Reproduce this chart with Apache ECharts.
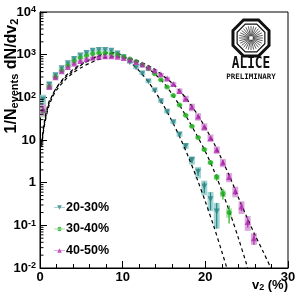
<!DOCTYPE html>
<html><head><meta charset="utf-8">
<script src="https://cdn.jsdelivr.net/npm/echarts@6/dist/echarts.min.js"></script>
<style>html,body{margin:0;padding:0;background:#fff}#c{width:299px;height:299px}</style>
</head><body><div id="c"></div>
<script>
// ---- data ----
const v2Bins = [0.375,1.125,1.875,2.625,3.375,4.125,4.875,5.625,6.375,7.125,7.875,8.625,9.375,10.125,10.875,11.625,12.375,13.125,13.875,14.625,15.375,16.125,16.875,17.625,18.375,19.125,19.875,20.625,21.375,22.125,22.875,23.625,24.375,25.125,25.875];
const seriesNames = ['20-30%','30-40%','40-50%'];
const val2030 = [89,200,330,480,630,790,955,1100,1230,1290,1290,1230,1070,870,660,500,363,234,145,81,46,26,13.5,7.2,3.4,1.8,0.81,0.41,0.21];
const val3040 = [48,178,300,427,560,710,850,955,1050,1100,1100,1050,980,890,795,690,575,470,355,257,174,110,66,38,21,11.5,6.0,2.95,1.35,0.56,0.20];
const val4050 = [52,178,295,407,513,617,708,795,851,891,912,912,891,832,759,676,589,501,427,347,275,204,141,93,59,35.5,20.4,11.2,5.9,2.95,1.35,0.63,0.275,0.12,0.05];
const sys2030 = [0.30,0.15,0.10,0.08,0.08,0.08,0.08,0.08,0.08,0.08,0.08,0.08,0.08,0.08,0.08,0.08,0.08,0.08,0.08,0.08,0.09,0.10,0.12,0.15,0.22,0.30,0.38,0.48,0.60];
const sys3040 = [0.30,0.15,0.08,0.06,0.06,0.06,0.06,0.06,0.06,0.06,0.06,0.06,0.06,0.06,0.06,0.06,0.06,0.06,0.06,0.06,0.06,0.06,0.06,0.06,0.06,0.07,0.08,0.10,0.14,0.18,0.25];
const sys4050 = [0.30,0.15,0.08,0.07,0.07,0.07,0.07,0.07,0.07,0.07,0.07,0.07,0.07,0.07,0.07,0.07,0.07,0.07,0.07,0.07,0.10,0.12,0.15,0.17,0.20,0.20,0.20,0.20,0.20,0.22,0.24,0.28,0.33,0.38,0.30];
const stat2030 = [0.05,0.03,0.03,0.03,0.03,0.03,0.03,0.03,0.03,0.03,0.03,0.03,0.03,0.03,0.03,0.03,0.03,0.03,0.03,0.04,0.05,0.06,0.08,0.10,0.15,0.20,0.30,0.45,0.60];
const stat3040 = [0.05,0.03,0.03,0.03,0.03,0.03,0.03,0.03,0.03,0.03,0.03,0.03,0.03,0.03,0.03,0.03,0.03,0.03,0.03,0.03,0.03,0.04,0.05,0.06,0.07,0.08,0.10,0.12,0.18,0.28,0.45];
const stat4050 = [0.05,0.03,0.03,0.03,0.03,0.03,0.03,0.03,0.03,0.03,0.03,0.03,0.03,0.03,0.03,0.03,0.03,0.03,0.03,0.03,0.03,0.04,0.05,0.06,0.07,0.08,0.09,0.10,0.12,0.14,0.16,0.18,0.22,0.26,0.30];
const fitX2030 = [0.2,0.5,1,1.5,2,3,4,5,6,7,8,9,10,11,12,13,14,15,16,17,18,19,20,21,22,22.6];
const fitY2030 = [9,25,71,112,170,302,447,603,759,933,1096,1122,933,646,417,245,129,62,27,10.7,3.8,1.23,0.36,0.098,0.024,0.01];
const fitX3040 = [0.2,0.5,1,1.5,2,3,4,5,6,7,8,9,10,11,12,13,14,15,16,17,18,19,20,21,22,23,24,25,25.1];
const fitY3040 = [8,22,63,112,166,282,417,575,741,891,1023,1072,912,776,631,490,339,214,117,60,28,12.6,5.4,2.0,0.65,0.19,0.05,0.012,0.01];
const fitX4050 = [0.2,0.5,1,1.5,2,3,4,5,6,7,8,9,10,11,12,13,14,15,16,17,18,19,20,21,22,23,24,25,26,27,28];
const fitY4050 = [7,20,56,100,148,251,372,501,631,759,851,891,871,794,692,562,437,309,214,135,78,41,19.5,8.7,3.5,1.32,0.45,0.16,0.06,0.024,0.0093];
const xTicks = [0,10,20,30];
const yRange = [0.01,10000];

// ---- styles ----
const markColors = ['#2a8585','#1fae1f','#b02cb0'];
const boxColors = ['#a3d4d4','#b4e4b4','#dba6db'];
const symbols = ['triangle','circle','triangle'];
const rotates = [180,0,0];
const FONT = 'Liberation Sans, Arial, sans-serif';

function boxSeries(vals, rel, color) {
  return {
    type:'custom', silent:true, z:1,
    data: vals.map((v,i)=>[v2Bins[i], v*(1-rel[i]), v*(1+rel[i])]),
    encode:{x:0,y:[1,2]},
    renderItem:(p, api)=>{
      const x=api.value(0), lo=api.value(1), hi=api.value(2);
      const a=api.coord([x-0.36, hi]), b=api.coord([x+0.36, lo]);
      return {type:'rect', shape:{x:a[0],y:a[1],width:b[0]-a[0],height:b[1]-a[1]}, style:{fill:color}};
    }
  };
}
function errSeries(vals, rel, color) {
  return {
    type:'custom', silent:true, z:4,
    data: vals.map((v,i)=>[v2Bins[i], v*(1-rel[i]), v*(1+rel[i])]),
    encode:{x:0,y:[1,2]},
    renderItem:(p, api)=>{
      const x=api.value(0), lo=api.value(1), hi=api.value(2);
      const a=api.coord([x, hi]), b=api.coord([x, lo]);
      return {type:'line', shape:{x1:a[0],y1:a[1],x2:b[0],y2:b[1]}, style:{stroke:color,lineWidth:1.2}};
    }
  };
}
function fitSeries(xs, ys) {
  return {type:'line', data: xs.map((x,i)=>[x,ys[i]]), showSymbol:false, smooth:0.3, silent:true, z:3,
    lineStyle:{color:'#000', width:1.2, type:[3.5,3]}};
}
function markSeries(i, vals) {
  return {type:'scatter', name:seriesNames[i], data: vals.map((v,k)=>[v2Bins[k], v]), z:5,
    symbol:symbols[i], symbolRotate:rotates[i], symbolSize: i===1?5:6,
    itemStyle:{color:markColors[i]}};
}

const minorVals = [];
for (let e=-2; e<4; e++) for (let m=2; m<10; m++) minorVals.push([0, m*Math.pow(10,e)]);

const vals = [val2030, val3040, val4050];
const syss = [sys2030, sys3040, sys4050];
const stats = [stat2030, stat3040, stat4050];
const fits = [[fitX2030,fitY2030],[fitX3040,fitY3040],[fitX4050,fitY4050]];

const series = [];
for (let i=0;i<3;i++) series.push(boxSeries(vals[i], syss[i], boxColors[i]));
for (let i=0;i<3;i++) series.push(fitSeries(fits[i][0], fits[i][1]));
for (let i=0;i<3;i++) series.push(errSeries(vals[i], stats[i], markColors[i]));
for (let i=0;i<3;i++) series.push(markSeries(i, vals[i]));
series.push({type:'custom', silent:true, z:6, data:minorVals, clip:false,
  renderItem:(p, api)=>{ const c=api.coord([0, api.value(1)]);
    return {type:'line', shape:{x1:c[0],y1:c[1],x2:c[0]+3.5,y2:c[1]}, style:{stroke:'#000',lineWidth:1}}; }});

const legendIcons = [
  'path://M0,2.6h14v0.8h-14z M4,0h6l-3,6z',
  'path://M0,2.6h14v0.8h-14z M4.2,3a2.8,2.8 0 1,0 5.6,0a2.8,2.8 0 1,0 -5.6,0z',
  'path://M0,2.6h14v0.8h-14z M7,0l3,6h-6z'
];

// ALICE logo geometry
const cx=251, cy=38;
function oct(r){ const pts=[]; for(let k=0;k<8;k++){const a=Math.PI/8+k*Math.PI/4; pts.push([cx+r*Math.cos(a), cy+r*Math.sin(a)]);} return pts; }
const rays=[];
for(let k=0;k<28;k++){const a=k*2*Math.PI/28; rays.push({type:'line', shape:{x1:cx+2*Math.cos(a),y1:cy+2*Math.sin(a),x2:cx+12*Math.cos(a),y2:cy+12*Math.sin(a)}, style:{stroke:'#333',lineWidth:0.8}});}

const chart = echarts.init(document.getElementById('c'), null, {renderer:'canvas'});
chart.setOption({
  backgroundColor:'#fff',
  animation:false,
  grid:{left:40, right:11, top:12, bottom:31, show:true, borderColor:'#000', borderWidth:1},
  xAxis:{type:'value', min:xTicks[0], max:xTicks[xTicks.length-1], interval:10,
    axisLine:{lineStyle:{color:'#000',width:1}},
    axisTick:{inside:true, length:7, lineStyle:{color:'#000'}},
    minorTick:{show:true, splitNumber:5, length:4, lineStyle:{color:'#000'}},
    splitLine:{show:false},
    axisLabel:{color:'#000', fontFamily:FONT, fontWeight:'bold', fontSize:13, margin:3}},
  yAxis:{type:'log', logBase:10, min:yRange[0], max:yRange[1],
    axisLine:{show:true, lineStyle:{color:'#000',width:1}},
    axisTick:{show:true, inside:true, length:7, lineStyle:{color:'#000'}},
    splitLine:{show:false},
    axisLabel:{color:'#000', fontFamily:FONT, fontWeight:'bold', fontSize:13, margin:4,
      formatter:(v)=>{ const e=Math.round(Math.log10(v)); if(e===0) return '1'; if(e===1) return '10'; return '10{s|'+e+'}'; },
      rich:{s:{fontSize:9, fontWeight:'bold', fontFamily:FONT, verticalAlign:'top', lineHeight:8, color:'#000'}}}},
  legend:{orient:'vertical', left:49, top:196, itemWidth:11, itemHeight:5, itemGap:8.5,
    data: seriesNames.map((n,i)=>({name:n, icon:legendIcons[i], itemStyle:{color:markColors[i]}})),
    textStyle:{color:'#000', fontFamily:FONT, fontWeight:'bold', fontSize:12.5, padding:[0,0,0,-4]}},
  series: series,
  graphic:[
    {type:'text', x:12, y:76, rotation:Math.PI/2, silent:true,
      style:{text:'1/N{b|events} dN/dv{b|2}', fill:'#000', font:'bold 16px '+FONT, align:'center', verticalAlign:'middle',
        rich:{b:{fontSize:11, fontWeight:'bold', fontFamily:FONT, verticalAlign:'bottom', lineHeight:10, fill:'#000'}}}},
    {type:'text', right:11, top:279, silent:true,
      style:{text:'v{b|2} (%)', fill:'#000', font:'bold 13px '+FONT, align:'right',
        rich:{b:{fontSize:9, fontWeight:'bold', fontFamily:FONT, verticalAlign:'bottom', lineHeight:8, fill:'#000'}}}},
    {type:'polygon', shape:{points:oct(19.5)}, style:{fill:'none', stroke:'#111', lineWidth:3}, silent:true},
    {type:'polygon', shape:{points:oct(15)}, style:{fill:'none', stroke:'#111', lineWidth:1.2}, silent:true},
    {type:'group', children:rays, silent:true},
    {type:'text', x:cx, y:64, scaleX:0.8, silent:true, style:{text:'ALICE', fill:'#111', font:'bold 16px DejaVu Sans Mono', align:'center', verticalAlign:'middle'}},
    {type:'text', x:cx, y:77, silent:true, style:{text:'PRELIMINARY', fill:'#111', font:'bold 7.5px DejaVu Sans Mono', align:'center', verticalAlign:'middle'}}
  ]
});
</script></body></html>
